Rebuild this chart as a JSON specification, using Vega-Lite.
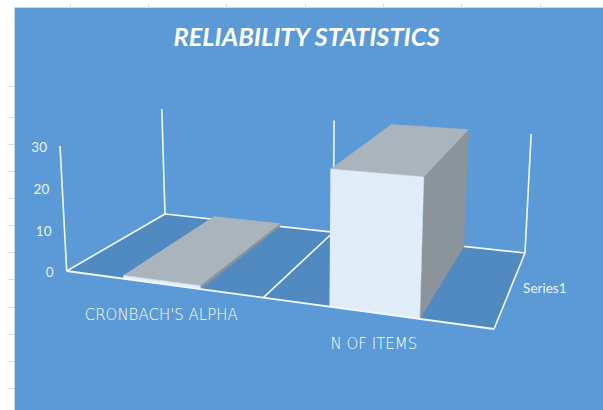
{
  "$schema": "https://vega.github.io/schema/vega-lite/v6.json",
  "width": 589,
  "height": 403,
  "padding": {"left": 14, "top": 7, "right": 0, "bottom": 0},
  "autosize": {"type": "none"},
  "background": "#ffffff",
  "view": {"fill": "#5b9ad6", "stroke": "#c3d9ef", "strokeWidth": 1},
  "title": {
    "text": "RELIABILITY STATISTICS",
    "font": "Lato",
    "fontStyle": "italic",
    "fontWeight": "bold",
    "fontSize": 25.4,
    "color": "#ffffff",
    "anchor": "middle",
    "frame": "group",
    "baseline": "alphabetic",
    "offset": 0,
    "dy": 69,
    "dx": -2
  },
  "data": {
    "values": [
      {"kind": "face", "part": "floor", "shape": "floor", "seq": 1, "u": 0, "d": 0, "value": 0},
      {"kind": "face", "part": "floor", "shape": "floor", "seq": 2, "u": 1, "d": 0, "value": 0},
      {"kind": "face", "part": "floor", "shape": "floor", "seq": 3, "u": 1, "d": 1, "value": 0},
      {"kind": "face", "part": "floor", "shape": "floor", "seq": 4, "u": 0, "d": 1, "value": 0},

      {"kind": "wall", "shape": "back edge", "seq": 1, "u": 0, "d": 1, "value": 0},
      {"kind": "wall", "shape": "back edge", "seq": 2, "u": 1, "d": 1, "value": 0},
      {"kind": "wall", "shape": "left edge", "seq": 1, "u": 0, "d": 0, "value": 0},
      {"kind": "wall", "shape": "left edge", "seq": 2, "u": 0, "d": 1, "value": 0},
      {"kind": "wall", "shape": "right edge", "seq": 1, "u": 1, "d": 0, "value": 0},
      {"kind": "wall", "shape": "right edge", "seq": 2, "u": 1, "d": 1, "value": 0},
      {"kind": "wall", "shape": "divider", "seq": 1, "u": 0.5, "d": 0, "value": 0},
      {"kind": "wall", "shape": "divider", "seq": 2, "u": 0.5, "d": 1, "value": 0},
      {"kind": "wall", "shape": "value axis", "seq": 1, "u": 0, "d": 0, "value": 0},
      {"kind": "wall", "shape": "value axis", "seq": 2, "u": 0, "d": 0, "value": 30},
      {"kind": "wall", "shape": "post left", "seq": 1, "u": 0, "d": 1, "value": 0},
      {"kind": "wall", "shape": "post left", "seq": 2, "u": 0, "d": 1, "value": 30},
      {"kind": "wall", "shape": "post middle", "seq": 1, "u": 0.5, "d": 1, "value": 0},
      {"kind": "wall", "shape": "post middle", "seq": 2, "u": 0.5, "d": 1, "value": 30},
      {"kind": "wall", "shape": "post right", "seq": 1, "u": 1, "d": 1, "value": 0},
      {"kind": "wall", "shape": "post right", "seq": 2, "u": 1, "d": 1, "value": 30},

      {"kind": "bar", "part": "side", "shape": "alpha side", "seq": 1, "u": 0.348, "d": 0, "value": 0},
      {"kind": "bar", "part": "side", "shape": "alpha side", "seq": 2, "u": 0.348, "d": 1, "value": 0},
      {"kind": "bar", "part": "side", "shape": "alpha side", "seq": 3, "u": 0.348, "d": 1, "value": 0.8},
      {"kind": "bar", "part": "side", "shape": "alpha side", "seq": 4, "u": 0.348, "d": 0, "value": 0.8},
      {"kind": "bar", "part": "top", "shape": "alpha top", "seq": 1, "u": 0.152, "d": 0, "value": 0.8},
      {"kind": "bar", "part": "top", "shape": "alpha top", "seq": 2, "u": 0.348, "d": 0, "value": 0.8},
      {"kind": "bar", "part": "top", "shape": "alpha top", "seq": 3, "u": 0.348, "d": 1, "value": 0.8},
      {"kind": "bar", "part": "top", "shape": "alpha top", "seq": 4, "u": 0.152, "d": 1, "value": 0.8},
      {"kind": "bar", "part": "front", "shape": "alpha front", "seq": 1, "u": 0.152, "d": 0, "value": 0},
      {"kind": "bar", "part": "front", "shape": "alpha front", "seq": 2, "u": 0.348, "d": 0, "value": 0},
      {"kind": "bar", "part": "front", "shape": "alpha front", "seq": 3, "u": 0.348, "d": 0, "value": 0.8},
      {"kind": "bar", "part": "front", "shape": "alpha front", "seq": 4, "u": 0.152, "d": 0, "value": 0.8},

      {"kind": "bar", "part": "side", "shape": "items side", "seq": 1, "u": 0.848, "d": 0, "value": 0},
      {"kind": "bar", "part": "side", "shape": "items side", "seq": 2, "u": 0.848, "d": 1, "value": 0},
      {"kind": "bar", "part": "side", "shape": "items side", "seq": 3, "u": 0.848, "d": 1, "value": 30},
      {"kind": "bar", "part": "side", "shape": "items side", "seq": 4, "u": 0.848, "d": 0, "value": 30},
      {"kind": "bar", "part": "top", "shape": "items top", "seq": 1, "u": 0.652, "d": 0, "value": 30},
      {"kind": "bar", "part": "top", "shape": "items top", "seq": 2, "u": 0.848, "d": 0, "value": 30},
      {"kind": "bar", "part": "top", "shape": "items top", "seq": 3, "u": 0.848, "d": 1, "value": 30},
      {"kind": "bar", "part": "top", "shape": "items top", "seq": 4, "u": 0.652, "d": 1, "value": 30},
      {"kind": "bar", "part": "front", "shape": "items front", "seq": 1, "u": 0.652, "d": 0, "value": 0},
      {"kind": "bar", "part": "front", "shape": "items front", "seq": 2, "u": 0.848, "d": 0, "value": 0},
      {"kind": "bar", "part": "front", "shape": "items front", "seq": 3, "u": 0.848, "d": 0, "value": 30},
      {"kind": "bar", "part": "front", "shape": "items front", "seq": 4, "u": 0.652, "d": 0, "value": 30},

      {"kind": "front", "shape": "front edge", "seq": 1, "u": 0, "d": 0, "value": 0},
      {"kind": "front", "shape": "front edge", "seq": 2, "u": 1, "d": 0, "value": 0},

      {"kind": "tick", "label": "0", "u": 0, "d": 0, "value": 0},
      {"kind": "tick", "label": "10", "u": 0, "d": 0, "value": 10},
      {"kind": "tick", "label": "20", "u": 0, "d": 0, "value": 20},
      {"kind": "tick", "label": "30", "u": 0, "d": 0, "value": 30},

      {"kind": "category", "label": "CRONBACH'S ALPHA", "u": 0.25, "d": 0, "value": 0},
      {"kind": "category", "label": "N OF ITEMS", "u": 0.75, "d": 0, "value": 0},

      {"kind": "series", "label": "Series1", "u": 1, "d": 0.5, "value": 0}
    ]
  },
  "transform": [
    {"calculate": "1 - 0.14755 * datum.u + 0.19965 * datum.d - 0.028 * datum.value / 30", "as": "w"},
    {"calculate": "(354.41 * datum.u + 131.24 * datum.d - 8.38 * datum.value / 30 + 66.7) / datum.w", "as": "sx"},
    {"calculate": "(9.46 * datum.u - 14.28 * datum.d - 129.09 * datum.value / 30 + 271) / datum.w", "as": "sy"}
  ],
  "encoding": {
    "x": {
      "field": "sx", "type": "quantitative",
      "scale": {"domain": [14, 603], "nice": false, "zero": false},
      "axis": {"orient": "top", "values": [70, 148, 226, 305, 383, 461, 540], "domain": false, "labels": false, "grid": false, "title": null, "tickColor": "#d9d9d9", "tickSize": 4, "tickWidth": 1}
    },
    "y": {
      "field": "sy", "type": "quantitative",
      "scale": {"domain": [410, 7], "nice": false, "zero": false},
      "axis": {"orient": "left", "values": [86, 117, 144, 171, 198, 225, 252, 279, 307, 334, 361, 388], "domain": false, "labels": false, "grid": false, "title": null, "tickColor": "#d9d9d9", "tickSize": 6, "tickWidth": 1}
    }
  },
  "layer": [
    {
      "transform": [{"filter": "datum.kind === 'face'"}],
      "mark": {"type": "line", "strokeWidth": 0, "fill": "#5189c1"},
      "encoding": {"detail": {"field": "shape"}, "order": {"field": "seq"}}
    },
    {
      "transform": [{"filter": "datum.kind === 'wall'"}],
      "mark": {"type": "line", "stroke": "#f2f7fd", "strokeWidth": 1.6},
      "encoding": {"detail": {"field": "shape"}, "order": {"field": "seq"}}
    },
    {
      "transform": [{"filter": "datum.kind === 'bar'"}],
      "mark": {"type": "line", "strokeWidth": 0.5},
      "encoding": {
        "detail": {"field": "shape"},
        "order": {"field": "seq"},
        "fill": {"field": "part", "type": "nominal", "legend": null, "scale": {"domain": ["front", "top", "side"], "range": ["#e1ecf9", "#a9b4bd", "#8b949b"]}},
        "stroke": {"field": "part", "type": "nominal", "legend": null, "scale": {"domain": ["front", "top", "side"], "range": ["#e1ecf9", "#a9b4bd", "#8b949b"]}}
      }
    },
    {
      "transform": [{"filter": "datum.kind === 'front'"}],
      "mark": {"type": "line", "stroke": "#f2f7fd", "strokeWidth": 1.8},
      "encoding": {"detail": {"field": "shape"}, "order": {"field": "seq"}}
    },
    {
      "transform": [{"filter": "datum.kind === 'tick'"}],
      "mark": {"type": "text", "font": "Lato", "fontSize": 13.5, "color": "#eaf2fb", "align": "right", "baseline": "middle", "dx": -13, "dy": 2},
      "encoding": {"text": {"field": "label"}}
    },
    {
      "transform": [{"filter": "datum.kind === 'category'"}],
      "mark": {"type": "text", "font": "DejaVu Sans", "fontSize": 15, "fontWeight": 200, "color": "#ffffff", "align": "center", "baseline": "middle", "dy": 31},
      "encoding": {"text": {"field": "label"}}
    },
    {
      "transform": [{"filter": "datum.kind === 'series'"}],
      "mark": {"type": "text", "font": "Lato", "fontSize": 13.5, "color": "#eaf2fb", "align": "left", "baseline": "middle", "dx": 12, "dy": 2},
      "encoding": {"text": {"field": "label"}}
    }
  ]
}
